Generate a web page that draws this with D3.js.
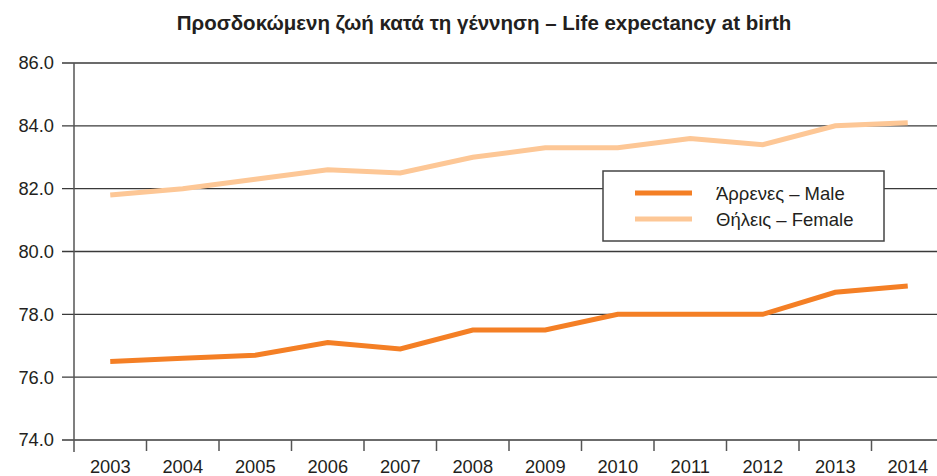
<!DOCTYPE html>
<html>
<head>
<meta charset="utf-8">
<script src="https://cdn.jsdelivr.net/npm/d3@7"></script>
<style>
  body { margin: 0; background: #fff; }
  text { font-family: "Liberation Sans", Arial, sans-serif; fill: #231f20; }
</style>
</head>
<body>
<svg id="chart" width="937" height="476"></svg>
<script>
const years = ['2003','2004','2005','2006','2007','2008','2009','2010','2011','2012','2013','2014'];
const male = [76.5, 76.6, 76.7, 77.1, 76.9, 77.5, 77.5, 78.0, 78.0, 78.0, 78.7, 78.9];
const female = [81.8, 82.0, 82.3, 82.6, 82.5, 83.0, 83.3, 83.3, 83.6, 83.4, 84.0, 84.1];
const yTicks = [74, 76, 78, 80, 82, 84, 86];
const seriesNames = ['Άρρενες – Male', 'Θήλεις – Female'];
const title = 'Προσδοκώμενη ζωή κατά τη γέννηση – Life expectancy at birth';

const svg = d3.select('#chart');
const mLeft = 74, mRight = 944, mTop = 63, mBottom = 440;

const x = d3.scaleBand().domain(years).range([mLeft, mRight]);
const y = d3.scaleLinear().domain([74, 86]).range([mBottom, mTop]);

// title
svg.append('text')
  .attr('x', 484).attr('y', 30)
  .attr('text-anchor', 'middle')
  .style('font-weight', 'bold')
  .style('font-size', '20.5px')
  .text(title);

// gridlines
svg.append('g')
  .selectAll('line').data(yTicks).enter().append('line')
  .attr('x1', mLeft - 12).attr('x2', 937)
  .attr('y1', d => y(d)).attr('y2', d => y(d))
  .attr('stroke', '#3a3a3a').attr('stroke-width', 1.3);

// y axis
const yAxis = svg.append('g')
  .attr('transform', `translate(${mLeft},0)`)
  .call(d3.axisLeft(y).tickValues(yTicks).tickFormat(d3.format('.1f')).tickSize(0).tickPadding(20));
yAxis.select('.domain').remove();
yAxis.selectAll('text').style('font-size', '18.3px').attr('fill', '#231f20');

svg.append('line')
  .attr('x1', mLeft).attr('x2', mLeft)
  .attr('y1', mTop).attr('y2', mBottom + 12)
  .attr('stroke', '#555').attr('stroke-width', 1.5);

// x axis, ticks sit between the categories
const xAxis = svg.append('g')
  .attr('transform', `translate(0,${mBottom})`)
  .call(d3.axisBottom(x).tickSize(0).tickPadding(20));
xAxis.select('.domain').remove();
xAxis.selectAll('text').style('font-size', '18.3px').attr('fill', '#231f20');

svg.append('g')
  .selectAll('line').data(years.slice(1)).enter().append('line')
  .attr('x1', d => x(d)).attr('x2', d => x(d))
  .attr('y1', mBottom).attr('y2', mBottom + 11)
  .attr('stroke', '#555').attr('stroke-width', 1.5);

// lines
const line = d3.line()
  .x((d, i) => x(years[i]) + x.bandwidth() / 2)
  .y(d => y(d));

svg.append('path').datum(female)
  .attr('d', line)
  .attr('fill', 'none')
  .attr('stroke', '#fdc796')
  .attr('stroke-width', 5);

svg.append('path').datum(male)
  .attr('d', line)
  .attr('fill', 'none')
  .attr('stroke', '#f47f25')
  .attr('stroke-width', 5);

// legend
const legend = svg.append('g').attr('transform', 'translate(603,171)');
legend.append('rect')
  .attr('width', 281).attr('height', 70)
  .attr('fill', '#fff')
  .attr('stroke', '#444').attr('stroke-width', 1.5);

const colors = ['#f47f25', '#fdc796'];
const items = legend.selectAll('g.item').data(seriesNames).enter().append('g')
  .attr('class', 'item')
  .attr('transform', (d, i) => `translate(0,${22 + i * 26})`);
items.append('line')
  .attr('x1', 32).attr('x2', 89)
  .attr('stroke', (d, i) => colors[i])
  .attr('stroke-width', 5);
items.append('text')
  .attr('x', 113).attr('y', 6.5)
  .style('font-size', '18.5px')
  .text(d => d);
</script>
</body>
</html>
